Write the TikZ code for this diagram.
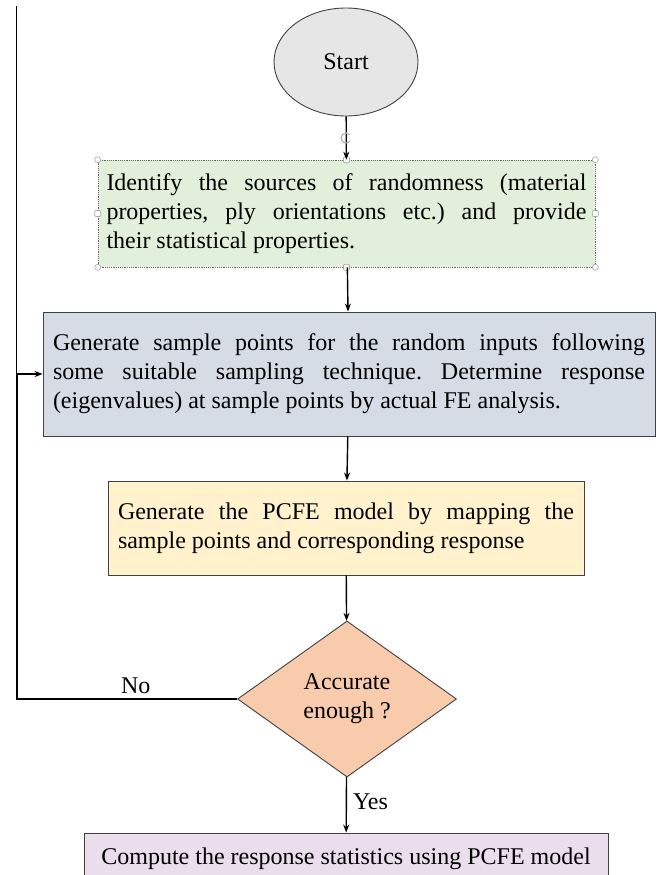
\documentclass[tikz,border=0pt]{standalone}
\usepackage{fontspec}
\setmainfont{Liberation Serif}
\usetikzlibrary{shapes.geometric,arrows.meta}
\definecolor{startfill}{HTML}{E7E6E6}
\definecolor{greenfill}{HTML}{E2EFDA}
\definecolor{bluefill}{HTML}{D6DCE5}
\definecolor{yellowfill}{HTML}{FFF2CC}
\definecolor{orangefill}{HTML}{F8CBAD}
\definecolor{pinkfill}{HTML}{EADDEC}
\definecolor{edge}{HTML}{404040}
\frenchspacing
\tikzset{
  txt/.style={font=\fontsize{24}{29}\selectfont},
  box/.style={txt, draw=edge, line width=0.9pt, rectangle, inner sep=0pt, align=justify},
  flow/.style={line width=1.4pt, -{Stealth[length=8pt,width=6pt]}},
  loopline/.style={line width=1.8pt, -{Stealth[length=8pt,width=6pt]}},
  handle/.style={draw=gray!70, fill=white, line width=0.6pt},
}
\begin{document}
\begin{tikzpicture}[x=1pt,y=-1pt]
\useasboundingbox (0,0) rectangle (656,875);
\clip (0,0) rectangle (656,875);
% thin page line
\draw[line width=0.8pt] (16,6) -- (16,376);
% nodes
\node[txt, ellipse, draw=edge, line width=0.9pt, fill=startfill, minimum width=144pt, minimum height=108pt, inner sep=0pt] (start) at (346,62) {Start};
\node[box, fill=greenfill, draw=gray!80!black, line width=0.6pt, dash pattern=on 1.2pt off 1pt, minimum width=497pt, minimum height=107pt, text width=480pt] (ident) at (346.5,213.5)
  {\hyphenpenalty=10000\frenchspacing Identify the sources of randomness (material\linebreak properties, ply orientations etc.) and provide\linebreak their statistical properties.};
\node[box, fill=bluefill, minimum width=612pt, minimum height=124pt, text width=592pt] (gen) at (349,374)
  {\hyphenpenalty=10000\frenchspacing Generate sample points for the random inputs following\linebreak some suitable sampling technique. Determine response\linebreak (eigenvalues) at sample points by actual FE analysis.};
\node[box, fill=yellowfill, minimum width=476pt, minimum height=94pt, text width=456pt] (pcfe) at (346,528)
  {\hyphenpenalty=10000 Generate the PCFE model by mapping the\linebreak sample points and corresponding response};
\node[txt, diamond, draw=edge, line width=0.9pt, fill=orangefill, minimum width=219pt, minimum height=156pt, inner sep=0pt, align=center] (acc) at (347,699)
  {Accurate\\enough ?};
\node[box, fill=pinkfill, minimum width=524pt, minimum height=52pt, align=center] (comp) at (346,859)
  {Compute the response statistics using PCFE model};
% handles on the selected box
\foreach \p in {north west, north east, south west, south east}
  \draw[handle] (ident.\p) circle[radius=3pt];
\foreach \p in {north, south, west, east}
  \draw[handle, rounded corners=1pt] ([shift={(-3pt,-3pt)}]ident.\p) rectangle ([shift={(3pt,3pt)}]ident.\p);
% connectors
\coordinate (rot) at (346,138);
\draw[flow] (start) -- (ident);
\draw[gray!60, line width=1.2pt] ([shift={(40:5pt)}]rot) arc[start angle=40, end angle=320, radius=5pt];
\draw[flow] (ident) -- (gen);
\draw[flow] (gen) -- (pcfe);
\draw[flow] (pcfe) -- (acc);
\draw[flow] (acc) -- node[txt, right, pos=0.45, inner sep=6pt] (yes) {Yes} (comp);
\coordinate (lc) at (17,699);
\draw[loopline] (acc.west) -- node[txt, above, pos=0.46, inner sep=4pt] (no) {No} (lc) |- (gen.west);
\end{tikzpicture}
\end{document}
